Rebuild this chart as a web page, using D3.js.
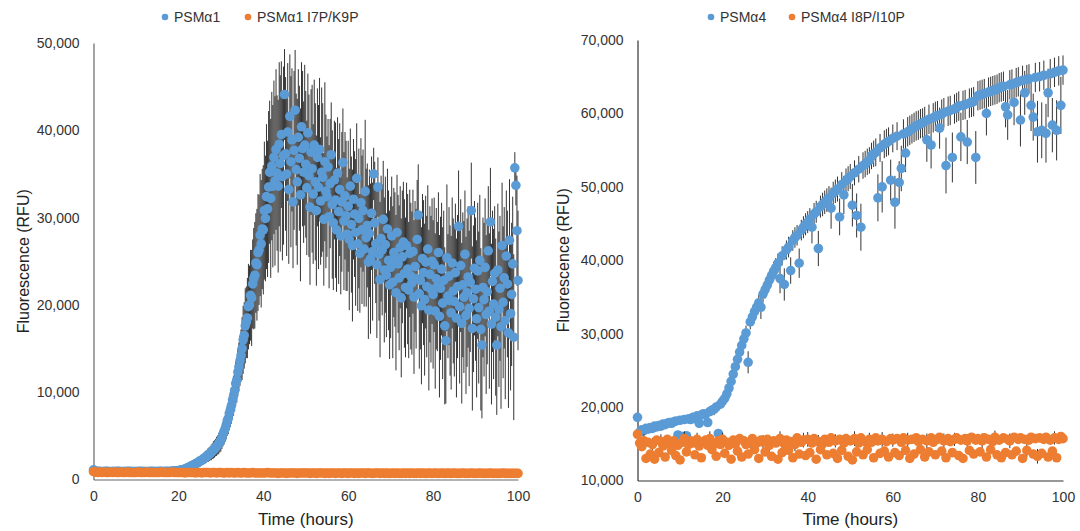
<!DOCTYPE html>
<html>
<head>
<meta charset="utf-8">
<script src="https://cdn.jsdelivr.net/npm/d3@7"></script>
<style>
  body { margin: 0; background: #fff; }
  svg { display: block; font-family: "Liberation Sans", Arial, Helvetica, sans-serif; }
</style>
</head>
<body>
<svg id="chart" width="1080" height="531"></svg>
<script>
// all fluorescence values are in thousands of RFU

var hourTicks = [0, 20, 40, 60, 80, 100];
var leftTicks = [0, 10, 20, 30, 40, 50];
var rightTicks = [10, 20, 30, 40, 50, 60, 70];

// PSMa1, one reading every 15 min
var psma1Step = 0.25;
var psma1 = [
  1.1,1.0,0.95,0.9,0.9,0.95,0.9,0.9,0.85,0.9,0.9,0.9,0.95,0.9,0.9,0.9,0.85,0.9,0.9,0.9,
  0.9,0.9,0.9,0.95,0.9,0.9,0.9,0.85,0.9,0.9,0.9,0.9,0.9,0.95,0.9,0.9,0.9,0.9,0.85,0.9,
  0.9,0.9,0.9,0.9,0.95,0.9,0.9,0.9,0.9,0.9,0.85,0.9,0.9,0.9,0.9,0.95,0.9,0.9,0.9,0.9,
  0.9,0.9,0.9,0.95,0.9,0.9,0.9,0.9,0.9,0.95,0.9,0.9,0.9,0.95,0.95,0.95,1.0,1.0,1.0,1.0,
  1.0,1.05,1.05,1.1,1.1,1.15,1.2,1.2,1.3,1.35,1.4,1.45,1.55,1.6,1.65,1.7,1.8,1.85,1.9,2.0,
  2.1,2.15,2.2,2.3,2.4,2.5,2.6,2.7,2.8,2.9,3.0,3.1,3.25,3.4,3.5,3.65,3.8,3.95,4.1,4.3,
  4.5,4.8,5.2,5.5,5.8,6.2,6.7,7.0,7.6,8.0,8.5,9.1,9.6,10.2,11.0,11.4,12.3,12.9,13.6,14.2,
  15.0,16.0,16.5,17.6,18.0,18.5,19.8,20.0,21.1,20.8,22.4,23.0,23.4,24.8,24.6,26.0,26.3,28.0,27.0,28.7,
  28.6,30.8,29.9,32.4,31.0,33.5,35.2,32.2,35.9,33.6,36.9,34.2,37.8,35.1,33.6,38.4,36.2,39.5,34.7,37.1,
  44.1,37.3,35.0,39.8,33.2,41.6,36.4,38.9,31.8,37.7,42.3,35.5,34.1,39.2,36.8,32.6,40.4,37.9,35.2,38.3,
  36.1,33.4,39.7,34.8,31.2,37.5,35.6,32.7,38.3,34.1,30.8,36.9,33.5,37.8,31.9,35.2,34.6,29.8,36.4,33.0,
  32.4,35.8,30.1,33.9,37.2,31.5,29.4,34.3,32.0,28.6,35.1,30.7,33.2,27.9,31.8,36.3,29.6,32.5,30.2,28.1,
  31.3,27.5,33.6,29.2,26.8,32.1,30.4,28.3,34.5,27.0,29.9,25.9,31.7,28.6,30.8,26.4,33.0,27.7,29.1,24.9,
  28.2,25.3,30.5,26.1,35.0,29.4,27.0,24.6,33.5,25.8,22.9,27.6,26.3,29.8,24.0,26.9,23.4,28.7,25.1,22.3,
  24.3,27.9,22.6,26.0,25.2,21.4,28.3,24.7,23.1,26.6,20.8,25.5,27.2,23.6,22.0,26.8,24.1,21.7,25.9,23.3,
  22.5,26.1,20.9,24.4,23.0,27.5,30.3,21.3,22.8,19.9,25.3,23.7,20.6,24.9,22.1,26.4,19.4,23.5,21.8,25.0,
  21.2,24.6,19.3,23.0,22.1,26.0,18.7,21.9,24.1,20.2,22.8,17.6,15.9,25.4,21.0,23.3,20.5,19.1,24.8,21.6,
  20.4,23.7,18.5,22.1,29.0,19.8,24.5,17.9,22.3,20.9,25.8,18.8,21.4,23.2,19.6,22.6,30.8,17.3,20.7,24.2,
  21.8,18.4,23.9,19.7,25.1,17.2,15.4,22.0,20.6,24.3,18.9,21.5,26.2,19.3,29.5,17.8,22.7,20.1,23.6,18.6,
  15.4,24.0,19.5,21.9,17.5,26.8,20.3,23.1,18.2,25.6,22.4,16.8,27.4,19.0,21.2,24.7,16.3,35.7,33.7,28.5,
  22.8
];
var psma1Err = [
  0.1,0.1,0.1,0.1,0.1,0.1,0.1,0.1,0.1,0.1,0.1,0.1,0.1,0.1,0.1,0.1,0.1,0.1,0.1,0.1,
  0.1,0.1,0.1,0.1,0.1,0.1,0.1,0.1,0.1,0.1,0.1,0.1,0.1,0.1,0.1,0.1,0.1,0.1,0.1,0.1,
  0.1,0.1,0.1,0.1,0.1,0.1,0.1,0.1,0.1,0.1,0.1,0.1,0.1,0.1,0.1,0.1,0.1,0.1,0.1,0.1,
  0.1,0.1,0.1,0.1,0.1,0.1,0.1,0.1,0.1,0.1,0.1,0.1,0.1,0.1,0.1,0.1,0.1,0.1,0.1,0.1,
  0.1,0.1,0.1,0.1,0.2,0.2,0.2,0.2,0.2,0.3,0.3,0.3,0.3,0.3,0.4,0.4,0.4,0.4,0.5,0.5,
  0.5,0.5,0.6,0.6,0.6,0.7,0.7,0.7,0.8,0.8,0.8,0.9,0.9,1.0,1.0,1.0,1.1,1.1,1.2,1.2,
  1.3,1.3,1.4,1.5,1.5,1.6,1.7,1.8,1.9,2.0,2.1,2.2,2.3,2.4,2.5,2.6,2.7,2.8,2.9,3.0,
  3.6,3.9,3.8,4.3,4.1,4.6,4.9,4.5,5.2,5.5,5.1,5.8,6.1,5.7,6.4,6.7,6.3,7.0,7.3,6.9,
  7.4,7.9,7.2,8.3,7.8,8.7,8.2,9.1,8.5,9.3,8.8,9.7,9.2,8.9,9.9,9.4,10.1,8.4,9.6,10.2,
  5.2,8.8,9.4,7.9,8.5,7.1,9.8,8.2,7.6,9.1,6.9,8.7,9.5,7.8,8.3,9.9,7.4,8.9,8.1,9.2,
  8.4,7.7,6.8,9.3,8.9,7.2,9.6,8.0,7.5,9.0,8.6,7.9,9.4,8.2,7.3,9.7,8.5,7.6,9.1,8.8,
  6.9,5.5,8.2,7.4,6.0,8.5,7.7,6.8,8.9,7.1,6.4,8.3,7.6,6.7,8.0,6.2,7.9,7.3,8.6,6.5,
  7.5,8.1,6.6,7.8,8.7,6.9,7.2,8.4,6.3,7.7,8.0,6.8,7.4,8.5,7.0,6.6,8.2,7.9,7.1,8.8,
  7.3,8.6,6.5,7.9,3.0,7.0,6.8,8.4,3.4,7.6,8.9,7.2,7.5,6.7,8.3,7.8,7.1,6.9,8.0,8.5,
  8.1,6.8,8.7,7.4,7.7,8.9,6.6,7.9,8.3,7.0,9.1,7.6,6.9,8.5,8.0,7.2,8.6,7.8,7.3,8.4,
  8.2,7.1,8.8,7.5,8.0,6.8,5.8,8.6,7.9,9.0,7.4,8.3,8.7,7.6,8.1,7.3,9.2,7.8,8.4,7.2,
  8.5,7.7,8.9,8.1,7.4,6.9,9.3,8.2,7.6,8.7,8.0,9.0,7.2,8.4,7.1,7.9,8.6,8.8,7.5,8.3,
  8.6,7.9,9.1,8.2,6.4,8.8,7.6,9.2,8.3,8.7,7.3,9.0,8.5,8.1,8.9,8.0,5.5,9.4,8.4,7.7,
  8.2,9.0,7.8,8.7,7.5,9.3,8.4,8.0,8.8,7.9,9.1,8.3,7.4,8.9,6.2,9.2,8.1,8.6,7.7,9.0,
  8.0,7.6,8.9,8.3,9.4,7.2,8.7,8.1,9.0,7.5,8.4,8.6,7.0,8.8,8.2,7.7,9.5,1.8,2.3,6.3,
  8.0
];

// PSMa1 I7P/K9P, one reading every 30 min (error bars hidden by the markers)
var psma1MutStep = 0.5;
var psma1Mut = [
  0.9,0.85,0.8,0.85,0.8,0.85,0.8,0.8,0.85,0.8,
  0.85,0.8,0.8,0.85,0.8,0.8,0.85,0.8,0.8,0.8,
  0.8,0.85,0.8,0.8,0.8,0.85,0.8,0.8,0.8,0.8,
  0.8,0.8,0.85,0.8,0.8,0.8,0.8,0.85,0.8,0.8,
  0.8,0.8,0.8,0.75,0.8,0.8,0.8,0.8,0.75,0.8,
  0.8,0.75,0.8,0.8,0.8,0.75,0.8,0.8,0.75,0.8,
  0.8,0.75,0.75,0.8,0.75,0.8,0.75,0.75,0.8,0.75,
  0.75,0.8,0.75,0.75,0.75,0.8,0.75,0.75,0.75,0.75,
  0.75,0.75,0.8,0.75,0.75,0.75,0.75,0.7,0.75,0.75,
  0.75,0.7,0.75,0.75,0.75,0.75,0.7,0.75,0.75,0.75,
  0.75,0.75,0.7,0.75,0.75,0.7,0.75,0.75,0.75,0.7,
  0.75,0.7,0.75,0.75,0.7,0.75,0.75,0.7,0.75,0.75,
  0.7,0.75,0.75,0.7,0.75,0.7,0.75,0.75,0.7,0.75,
  0.75,0.7,0.7,0.75,0.75,0.7,0.75,0.7,0.75,0.7,
  0.7,0.75,0.7,0.75,0.7,0.7,0.75,0.7,0.75,0.7,
  0.75,0.7,0.7,0.75,0.7,0.75,0.7,0.7,0.75,0.7,
  0.7,0.75,0.7,0.7,0.75,0.7,0.7,0.75,0.7,0.7,
  0.75,0.7,0.7,0.7,0.75,0.7,0.7,0.7,0.75,0.7,
  0.7,0.7,0.75,0.7,0.7,0.7,0.7,0.75,0.7,0.7,
  0.7,0.7,0.7,0.75,0.7,0.7,0.7,0.7,0.7,0.7,
  0.7
];

// PSMa4, one reading every 30 min
var psma4Step = 0.5;
var psma4 = [
  18.6,16.6,16.9,16.8,17.1,17.0,17.2,17.1,17.4,17.3,
  17.5,17.4,17.7,17.6,17.8,17.9,17.8,18.0,18.1,16.2,
  18.2,16.0,18.3,16.1,18.4,18.3,18.6,18.5,18.8,17.8,
  18.9,19.1,19.0,17.9,19.4,19.6,19.7,20.0,16.4,20.4,
  20.8,21.2,21.8,22.6,23.5,24.5,25.5,26.5,27.5,28.4,
  29.3,30.1,26.1,31.6,32.3,33.0,33.6,34.2,33.6,35.4,
  36.0,36.6,37.3,37.9,38.5,39.0,39.6,37.5,40.6,36.7,
  41.4,41.8,38.6,42.7,43.1,43.4,39.6,44.1,44.5,44.9,
  45.2,45.6,44.5,46.3,46.6,41.6,47.3,47.6,47.9,48.2,
  48.5,47.1,49.1,49.4,49.7,45.9,50.3,48.9,50.8,51.1,
  51.4,47.5,51.9,46.1,52.4,44.5,52.9,53.1,53.4,53.6,
  54.2,54.5,54.7,48.5,55.3,50.0,55.8,56.0,56.2,50.9,
  56.6,47.9,56.9,50.6,52.5,57.2,54.6,57.5,57.7,57.9,
  58.1,58.3,58.4,58.6,58.7,58.9,56.4,59.2,55.7,59.4,
  59.6,59.7,58.0,59.9,60.1,52.9,60.3,60.4,54.0,60.6,
  60.8,61.0,56.8,61.1,61.2,56.1,61.4,61.5,61.6,54.0,
  62.4,62.5,62.6,62.7,60.0,62.9,63.0,63.1,63.2,63.3,
  63.5,63.6,63.7,60.9,59.8,63.9,64.0,61.5,64.2,64.3,
  59.1,64.5,62.8,64.6,64.7,61.1,59.5,64.9,57.5,65.0,
  57.7,65.2,57.3,62.8,65.4,58.4,65.6,57.7,65.8,61.1,
  65.9
];
var psma4Err = [
  0.5,0.4,0.4,0.4,0.4,0.4,0.4,0.4,0.4,0.4,
  0.4,0.4,0.4,0.4,0.4,0.4,0.4,0.4,0.4,0.5,
  0.4,0.5,0.4,0.5,0.4,0.4,0.4,0.4,0.5,0.6,
  0.5,0.5,0.5,0.6,0.5,0.6,0.8,0.6,0.6,0.6,
  0.6,0.7,0.7,0.8,0.8,0.8,0.9,0.9,0.9,1.0,
  1.0,1.0,1.5,1.0,1.0,1.1,1.1,1.1,1.6,1.1,
  1.2,1.2,1.2,1.2,1.3,1.3,1.3,2.0,1.3,2.2,
  1.3,1.4,1.8,1.4,1.4,1.4,2.0,1.4,1.5,1.5,
  1.5,1.5,2.2,1.5,1.5,2.4,1.5,1.6,1.6,1.6,
  1.6,2.8,1.6,1.6,1.7,2.5,1.7,2.6,1.7,1.7,
  1.7,2.9,1.7,3.0,1.8,3.2,1.8,1.8,1.8,1.8,
  1.8,1.8,1.9,3.2,1.9,3.5,1.9,1.9,1.9,2.8,
  1.9,3.6,1.9,2.9,3.1,2.0,2.6,2.0,2.0,2.0,
  2.0,2.0,2.0,2.0,2.0,2.0,3.0,2.0,3.2,2.0,
  2.0,2.0,2.8,2.0,2.0,3.8,2.0,2.0,3.4,2.0,
  2.0,2.0,3.3,2.0,2.0,3.0,2.0,2.0,2.0,3.6,
  2.0,2.0,2.0,2.0,3.0,2.0,2.0,2.0,2.0,2.0,
  2.0,2.0,2.0,2.8,3.4,2.0,2.0,3.1,2.0,2.0,
  3.6,2.0,3.0,2.0,2.0,3.5,3.2,2.0,4.2,2.0,
  3.8,2.0,4.0,3.3,2.0,3.7,2.0,4.1,2.0,3.9,
  2.0
];

// PSMa4 I8P/I10P, one reading every 30 min
var psma4MutStep = 0.5;
var psma4Mut = [
  16.3,15.1,14.6,15.4,13.0,15.2,13.6,14.9,12.9,15.5,
  13.8,15.3,14.7,13.2,15.6,15.0,14.1,15.4,13.4,14.8,
  12.8,15.2,15.7,13.9,14.9,15.4,15.1,13.5,15.6,14.7,
  13.1,15.3,15.5,14.8,15.7,14.2,15.0,13.3,15.4,14.9,
  15.6,13.7,15.2,14.8,12.9,15.5,15.0,14.0,15.7,13.2,
  15.4,14.9,13.6,15.3,15.7,14.2,15.1,13.0,15.5,15.2,
  13.9,15.6,14.8,13.3,15.4,15.1,12.9,15.7,13.8,15.0,
  15.5,14.1,15.3,13.1,14.9,15.8,13.6,15.2,15.5,13.4,
  15.6,13.8,15.1,15.7,12.9,15.3,14.2,15.0,15.6,13.5,
  15.2,15.8,13.7,15.4,13.0,15.6,14.1,15.1,15.7,13.3,
  15.4,12.8,15.7,13.9,15.1,15.8,13.5,15.3,14.2,15.6,
  15.2,13.1,15.8,15.4,13.7,15.6,14.0,15.3,13.2,15.7,
  15.5,13.8,15.7,13.4,15.2,15.8,14.1,15.5,13.0,15.6,
  13.6,15.8,15.3,14.2,15.6,13.2,15.4,13.9,15.8,15.2,
  13.5,15.6,15.9,14.0,15.4,13.1,15.7,15.3,13.8,15.6,
  15.8,13.4,15.5,13.0,15.7,15.4,14.1,15.9,13.6,15.5,
  15.7,13.9,15.4,15.8,13.2,15.6,14.2,15.3,15.9,13.5,
  15.5,13.1,15.8,13.8,15.6,15.4,13.5,15.9,14.0,15.6,
  15.8,13.0,15.6,14.1,15.5,15.9,13.6,15.7,13.3,15.8,
  13.7,15.6,15.9,13.2,15.5,14.0,15.8,13.1,15.6,16.0,
  15.7
];
var psma4MutErr = [
  0.4,0.4,0.4,0.9,0.4,0.4,0.4,0.9,0.4,0.4,
  0.4,1.0,0.4,0.4,0.4,0.9,0.4,0.4,0.4,0.4,
  0.4,0.4,1.0,0.4,0.4,0.4,0.4,0.4,0.9,0.4,
  0.4,0.4,0.4,0.4,1.0,0.4,0.4,0.4,0.4,0.4,
  0.9,0.4,0.4,0.4,0.4,0.4,1.0,0.4,0.4,0.4,
  0.4,0.4,0.4,0.9,0.4,0.4,0.4,0.4,0.4,1.0,
  0.4,0.4,0.9,0.4,0.4,0.4,0.4,1.0,0.4,0.4,
  0.4,0.4,0.4,0.4,0.9,0.4,0.4,0.4,1.0,0.4,
  1.0,0.4,0.4,0.4,0.4,0.9,0.4,0.4,0.4,0.4,
  0.4,0.4,0.4,0.9,0.4,0.4,0.4,1.0,0.4,0.4,
  0.4,0.4,1.0,0.4,0.4,0.4,0.4,0.4,0.4,0.9,
  0.4,0.4,0.4,0.4,0.4,1.0,0.4,0.4,0.4,0.4,
  0.9,0.4,0.4,0.4,0.4,0.4,0.4,1.0,0.4,0.4,
  0.4,0.4,0.9,0.4,0.4,0.4,1.0,0.4,0.4,0.4,
  0.4,0.4,0.4,0.4,1.0,0.4,0.4,0.4,0.4,0.9,
  0.4,0.4,0.4,0.4,0.4,0.9,0.4,0.4,0.4,0.4,
  0.4,0.4,1.0,0.4,0.4,0.4,0.4,0.4,0.9,0.4,
  0.4,0.4,0.4,0.4,0.4,1.0,0.4,0.4,0.4,0.4,
  0.4,0.4,0.4,0.9,0.4,0.4,0.4,0.4,1.0,0.4,
  0.4,0.4,0.4,0.4,0.4,0.4,0.9,0.4,0.4,0.4,
  0.4
];

var BLUE = "#5b9bd5", ORANGE = "#ed7d31";

var svg = d3.select("#chart");

function points(vals, errs, step) {
  return vals.map(function(v, i) {
    return { t: i * step, v: v, e: errs ? errs[i] : 0 };
  });
}

function drawSeries(g, x, y, data, color) {
  // error bars first, markers on top
  g.append("g")
    .selectAll("line")
    .data(data.filter(function(d) { return d.e > 0; }))
    .enter().append("line")
    .attr("x1", function(d) { return x(d.t); })
    .attr("x2", function(d) { return x(d.t); })
    .attr("y1", function(d) { return y(d.v - d.e); })
    .attr("y2", function(d) { return y(d.v + d.e); })
    .attr("stroke", "#111")
    .attr("stroke-opacity", 0.85)
    .attr("stroke-width", 1);

  g.append("g")
    .selectAll("circle")
    .data(data)
    .enter().append("circle")
    .attr("cx", function(d) { return x(d.t); })
    .attr("cy", function(d) { return y(d.v); })
    .attr("r", 4.8)
    .attr("fill", color);
}

function drawPanel(p) {
  var x = d3.scaleLinear().domain([0, 100]).range([p.x0, p.x1]);
  var y = d3.scaleLinear().domain(p.yDomain).range([p.y0, p.y1]);
  var g = svg.append("g");

  var xAxis = g.append("g")
    .attr("transform", "translate(0," + p.y0 + ")")
    .call(d3.axisBottom(x).tickValues(hourTicks).tickSize(0).tickSizeOuter(0).tickPadding(12));
  var yAxis = g.append("g")
    .attr("transform", "translate(" + p.x0 + ",0)")
    .call(d3.axisLeft(y).tickValues(p.yTicks).tickSize(0).tickSizeOuter(0).tickPadding(14)
      .tickFormat(function(d) { return d3.format(",")(d * 1000); }));

  [xAxis, yAxis].forEach(function(a) {
    a.select(".domain").attr("stroke", p.axisColor).attr("stroke-width", 1.2);
    a.selectAll("text").attr("font-size", 14).attr("fill", "#333")
      .attr("font-family", "Liberation Sans, Arial, sans-serif");
  });

  g.append("text")
    .attr("x", (p.x0 + p.x1) / 2).attr("y", 525)
    .attr("text-anchor", "middle").attr("font-size", 17).attr("fill", "#222")
    .text("Time (hours)");
  g.append("text")
    .attr("transform", "translate(" + p.titleX + "," + ((p.y0 + p.y1) / 2) + ") rotate(-90)")
    .attr("text-anchor", "middle").attr("font-size", 16).attr("fill", "#222")
    .text("Fluorescence (RFU)");

  p.series.forEach(function(s) {
    drawSeries(g, x, y, s.data, s.color);
  });

  // legend on top
  p.legend.forEach(function(l) {
    g.append("circle").attr("cx", l.x).attr("cy", 17).attr("r", 3.3).attr("fill", l.color);
    g.append("text").attr("x", l.x + 9).attr("y", 22).attr("font-size", 14).attr("fill", "#333").text(l.label);
  });
}

drawPanel({
  x0: 93.5, x1: 518, y0: 479.5, y1: 43, yDomain: [0, 50], yTicks: leftTicks,
  axisColor: "#666", titleX: 29,
  series: [
    { data: points(psma1, psma1Err, psma1Step), color: BLUE },
    { data: points(psma1Mut, null, psma1MutStep), color: ORANGE }
  ],
  legend: [
    { x: 165, color: BLUE, label: "PSMα1" },
    { x: 248, color: ORANGE, label: "PSMα1 I7P/K9P" }
  ]
});

drawPanel({
  x0: 637.5, x1: 1063, y0: 480.5, y1: 40, yDomain: [10, 70], yTicks: rightTicks,
  axisColor: "#333", titleX: 569,
  series: [
    { data: points(psma4, psma4Err, psma4Step), color: BLUE },
    { data: points(psma4Mut, psma4MutErr, psma4MutStep), color: ORANGE }
  ],
  legend: [
    { x: 711, color: BLUE, label: "PSMα4" },
    { x: 792, color: ORANGE, label: "PSMα4 I8P/I10P" }
  ]
});
</script>
</body>
</html>
